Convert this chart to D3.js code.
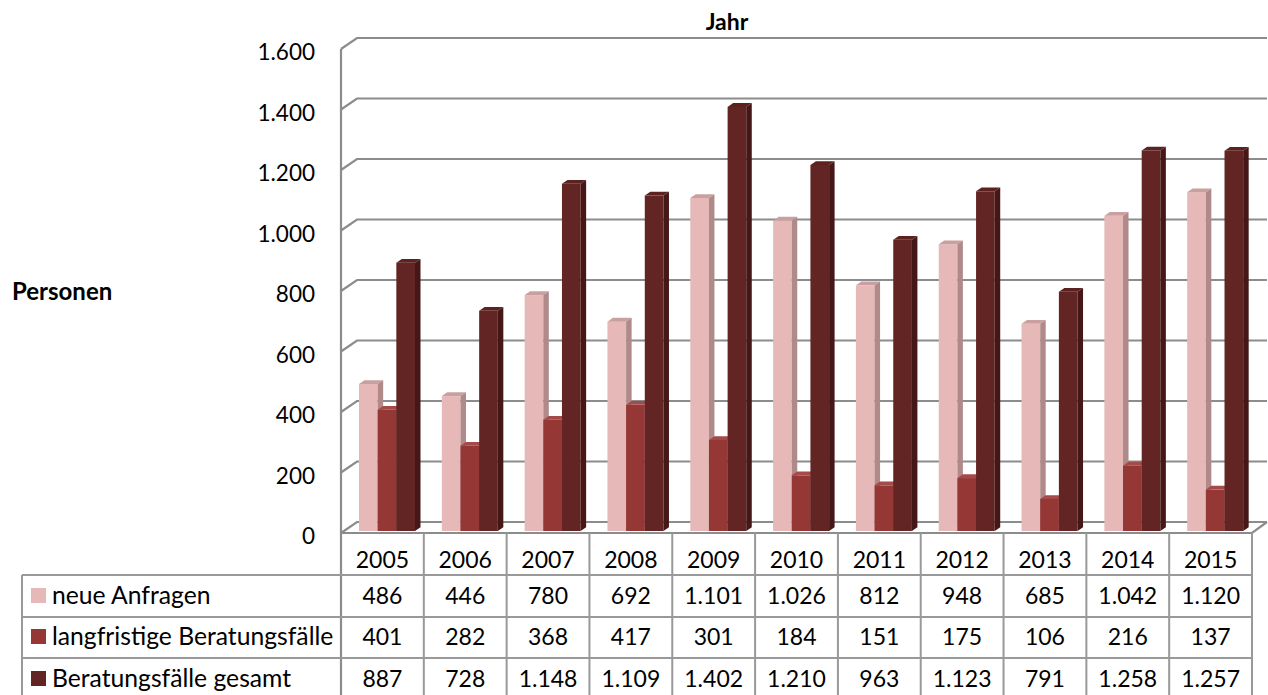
<!DOCTYPE html>
<html>
<head>
<meta charset="utf-8">
<script src="https://cdn.jsdelivr.net/npm/d3@7"></script>
<style>
  html, body { margin: 0; padding: 0; background: #fff; }
  svg text { font-family: Lato, "Open Sans", sans-serif; fill: #000; }
</style>
</head>
<body>
<svg id="chart" width="1268" height="695"></svg>
<script>
// ---- data ----
const years = ["2005","2006","2007","2008","2009","2010","2011","2012","2013","2014","2015"];
const seriesNames = ["neue Anfragen", "langfristige Beratungsfälle", "Beratungsfälle gesamt"];
const neueAnfragen = [486, 446, 780, 692, 1101, 1026, 812, 948, 685, 1042, 1120];
const langfristige = [401, 282, 368, 417, 301, 184, 151, 175, 106, 216, 137];
const gesamt = [887, 728, 1148, 1109, 1402, 1210, 963, 1123, 791, 1258, 1257];
const yTicks = [0, 200, 400, 600, 800, 1000, 1200, 1400, 1600];
const seriesValues = [neueAnfragen, langfristige, gesamt];

// ---- styles ----
const faceColors = [
  { front: "#E6B9B8", top: "#C9A09F", side: "#B08A89" },
  { front: "#953735", top: "#A44A48", side: "#74292A" },
  { front: "#632523", top: "#5C2220", side: "#451716" }
];
const gridColor = "#8c8c8c";
const tableColor = "#999999";

const locale = d3.formatLocale({ decimal: ",", thousands: ".", grouping: [3], currency: ["", "€"] });
const fmt = locale.format(",d");

const svg = d3.select("#chart");

// geometry
const left = 341, right = 1252;
const WDX = 16, WDY = -11;        // wall depth offset
const BDX = 5.5, BDY = -3.8;      // bar depth
const x = d3.scaleBand().domain(years).range([left, right]).padding(0);
const y = d3.scaleLinear().domain([0, 1600]).range([533, 49]);
const xs = d3.scaleBand().domain([0, 1, 2]).range([18, 74]).padding(0);
const barShiftY = -2;

// ---- walls / gridlines ----
const g = svg.append("g");
yTicks.forEach(t => {
  const yf = y(t);
  g.append("path")
    .attr("d", `M${left},${yf} L${left + WDX},${yf + WDY} L${right + WDX - 1},${yf + WDY}`)
    .attr("fill", "none").attr("stroke", gridColor).attr("stroke-width", 2.2);
});
g.append("path")
  .attr("d", `M${left},${y(0)} L${right},${y(0)} L${right + WDX - 1},${y(0) + WDY}`)
  .attr("fill", "none").attr("stroke", gridColor).attr("stroke-width", 2.2);

// ---- tick labels ----
svg.append("g").selectAll("text").data(yTicks).join("text")
  .attr("x", 315).attr("y", d => y(d) + 11)
  .attr("text-anchor", "end").attr("font-size", 22.5)
  .text(d => fmt(d));

// ---- bars (left to right for occlusion) ----
const bars = [];
years.forEach((yr, j) => {
  seriesValues.forEach((vals, i) => {
    bars.push({ yr, i, v: vals[j] });
  });
});
const bg = svg.append("g");
bars.forEach(b => {
  const x0 = x(b.yr) + xs(b.i);
  const w = xs.bandwidth();
  const yt = y(b.v) + barShiftY;
  const yb = y(0) + barShiftY;
  const c = faceColors[b.i];
  bg.append("rect").attr("x", x0).attr("y", yt).attr("width", w).attr("height", yb - yt)
    .attr("fill", c.front);
  bg.append("path")
    .attr("d", `M${x0},${yt} L${x0 + w},${yt} L${x0 + w + BDX},${yt + BDY} L${x0 + BDX},${yt + BDY} Z`)
    .attr("fill", c.top);
  bg.append("path")
    .attr("d", `M${x0 + w},${yt} L${x0 + w + BDX},${yt + BDY} L${x0 + w + BDX},${yb + BDY} L${x0 + w},${yb} Z`)
    .attr("fill", c.side);
});

// ---- titles ----
svg.append("text").attr("x", 727).attr("y", 30).attr("text-anchor", "middle")
  .attr("font-size", 23).attr("font-weight", "bold").text("Jahr");
svg.append("text").attr("x", 12).attr("y", 300)
  .attr("font-size", 24).attr("font-weight", "bold").text("Personen");

// ---- data table ----
const tg = svg.append("g");
const rowTops = [575, 617, 658];
const rowBottom = 699;
const tableLeft = 22;
x.domain().concat(["__end"]).forEach((yr, k) => {
  const xv = k < years.length ? x(yr) : right;
  tg.append("line").attr("x1", xv).attr("x2", xv).attr("y1", k === 0 ? y(1600) : y(0)).attr("y2", rowBottom)
    .attr("stroke", k === 0 ? gridColor : tableColor).attr("stroke-width", k === 0 ? 2.2 : 2);
});
rowTops.concat([rowBottom]).forEach(ry => {
  tg.append("line").attr("x1", tableLeft).attr("x2", right).attr("y1", ry).attr("y2", ry)
    .attr("stroke", tableColor).attr("stroke-width", 2);
});
tg.append("line").attr("x1", tableLeft).attr("x2", tableLeft).attr("y1", rowTops[0]).attr("y2", rowBottom)
  .attr("stroke", tableColor).attr("stroke-width", 2);

tg.selectAll("text.yr").data(years).join("text").attr("class", "yr")
  .attr("x", d => x(d) + x.bandwidth() / 2).attr("y", 568)
  .attr("text-anchor", "middle").attr("font-size", 23).text(d => d);

const baselines = [604, 645, 687];
seriesValues.forEach((vals, i) => {
  tg.selectAll(`text.v${i}`).data(vals).join("text").attr("class", `v${i}`)
    .attr("x", (d, j) => x(years[j]) + x.bandwidth() / 2).attr("y", baselines[i])
    .attr("text-anchor", "middle").attr("font-size", 23).text(d => fmt(d));
  tg.append("rect").attr("x", 31).attr("y", baselines[i] - 16).attr("width", 15).attr("height", 15)
    .attr("fill", faceColors[i].front);
  tg.append("text").attr("x", 52).attr("y", baselines[i]).attr("font-size", 24.7).text(seriesNames[i]);
});
</script>
</body>
</html>
